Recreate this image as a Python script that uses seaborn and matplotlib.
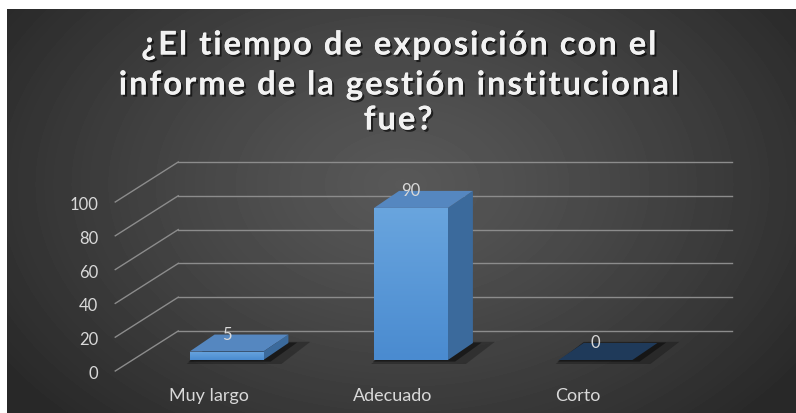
import numpy as np
import matplotlib
matplotlib.use("Agg")
import matplotlib.pyplot as plt
import seaborn as sns
from matplotlib.patches import Polygon
from matplotlib import patheffects as pe

categorias = ["Muy largo", "Adecuado", "Corto"]
valores = [5, 90, 0]
ticks_y = [0, 20, 40, 60, 80, 100]
titulo = ["¿El tiempo de exposición con el",
          "informe de la gestión institucional",
          "fue?"]

W, H, DPI = 796, 414, 100
fig = plt.figure(figsize=(W / DPI, H / DPI), dpi=DPI)
fig.patch.set_facecolor("white")

# fondo con degradado radial (estilo Excel oscuro)
bg = fig.add_axes([7 / W, 0, 1 - 7 / W, 1 - 10 / H])
yy, xx = np.mgrid[0:404, 0:789]
r = np.clip(np.sqrt(((xx - 395) / 480) ** 2 + ((yy - 175) / 330) ** 2), 0, 1)
g = 0.345 - (0.345 - 0.16) * r ** 1.2
bg.imshow(g, cmap="gray", vmin=0, vmax=1, aspect="auto")
bg.axis("off")

# eje principal = plano frontal de las barras
ax = fig.add_axes([134.25 / W, 53 / H, 553.5 / W, 169 / H])
sns.barplot(x=categorias, y=valores, width=0.4, color="#5B9BD5", saturation=1,
            errorbar=None, ax=ax, zorder=4)
ax.set_xlim(-0.5, 2.5)
ax.set_ylim(0, 100)
ax.axis("off")

fig.canvas.draw()
p0 = ax.transData.transform((0, 0))
p1 = ax.transData.transform((1, 1))
sx, sy = p1 - p0


def px(dx, dy):
    return dx / sx, dy / sy


txt = "#d9d9d9"
grid = "#8c8c8c"
x0, x1 = ax.get_xlim()
fx, fy = px(-19, -11)   # borde frontal del suelo
bx, by = px(44, 29)     # pared del fondo

for v in ticks_y:
    ax.plot([x0 + fx, x0 + bx], [v + fy, v + by], color=grid, lw=1, clip_on=False, zorder=1)
    ax.plot([x0 + bx, x1 + bx], [v + by, v + by], color=grid, lw=1, clip_on=False, zorder=1)
    ax.text(x0 + fx + px(-17, 0)[0], v + fy + px(0, -2)[1], str(v), ha="right", va="center",
            color=txt, fontsize=12, family="Lato")

ddx, ddy = px(25, 17)
grad = np.linspace(0, 1, 100).reshape(-1, 1)
for bar, val, cat in zip(ax.patches, valores, categorias):
    x, w, h = bar.get_x(), bar.get_width(), bar.get_height()
    # sombra en el suelo
    for k, a in ((10, 0.25), (4, 0.45)):
        ex, ey = px(k, -k * 0.4)
        sh = [(x - ex * 0.3, ey), (x + w + ex * 1.8, ey),
              (x + w + ddx + ex * 2.2, ddy - ey * 0.3), (x + ddx, ddy - ey * 0.3)]
        ax.add_patch(Polygon(sh, closed=True, fc="black", ec="none", alpha=a,
                             clip_on=False, zorder=2))
    top_col = "#5587C0" if h > 0 else "#1F3A5A"
    top = [(x, h), (x + w, h), (x + w + ddx, h + ddy), (x + ddx, h + ddy)]
    side = [(x + w, 0), (x + w + ddx, ddy), (x + w + ddx, h + ddy), (x + w, h)]
    ax.add_patch(Polygon(side, closed=True, fc="#3B6A9C", ec="none", clip_on=False, zorder=3))
    ax.add_patch(Polygon(top, closed=True, fc=top_col, ec="none", clip_on=False, zorder=5))
    if h > 0:
        im = ax.imshow(grad, cmap=matplotlib.colors.LinearSegmentedColormap.from_list(
            "f", ["#4A8BD0", "#69A5DE"]), extent=[x, x + w, 0, h], origin="lower",
            aspect="auto", zorder=4.5)
        im.set_clip_path(bar)
    ax.text(x + w / 2, h + px(0, 18)[1], str(val), ha="center", va="center",
            color=txt, fontsize=12, family="Lato", zorder=6)
    ax.text(x + w / 2 + px(-18, 0)[0], px(0, -35)[1], cat, ha="center", va="center",
            color=txt, fontsize=13, family="Lato", clip_on=False)

ax.set_xlim(x0, x1)
ax.set_ylim(0, 100)

# título con espaciado entre letras (espacio fino entre caracteres)
sombra = [pe.withSimplePatchShadow(offset=(1.5, -1.5), shadow_rgbFace="black", alpha=0.6),
          pe.Normal()]
for linea, yc in zip(titulo, [46, 86, 121]):
    fig.text(398 / W, 1 - yc / H, "\u200a".join(linea), ha="center", va="center",
             fontsize=23.5, weight="bold", color="#f2f2f2",
             family=["Lato", "DejaVu Sans"], path_effects=sombra)

fig.savefig("out.png", dpi=DPI)
